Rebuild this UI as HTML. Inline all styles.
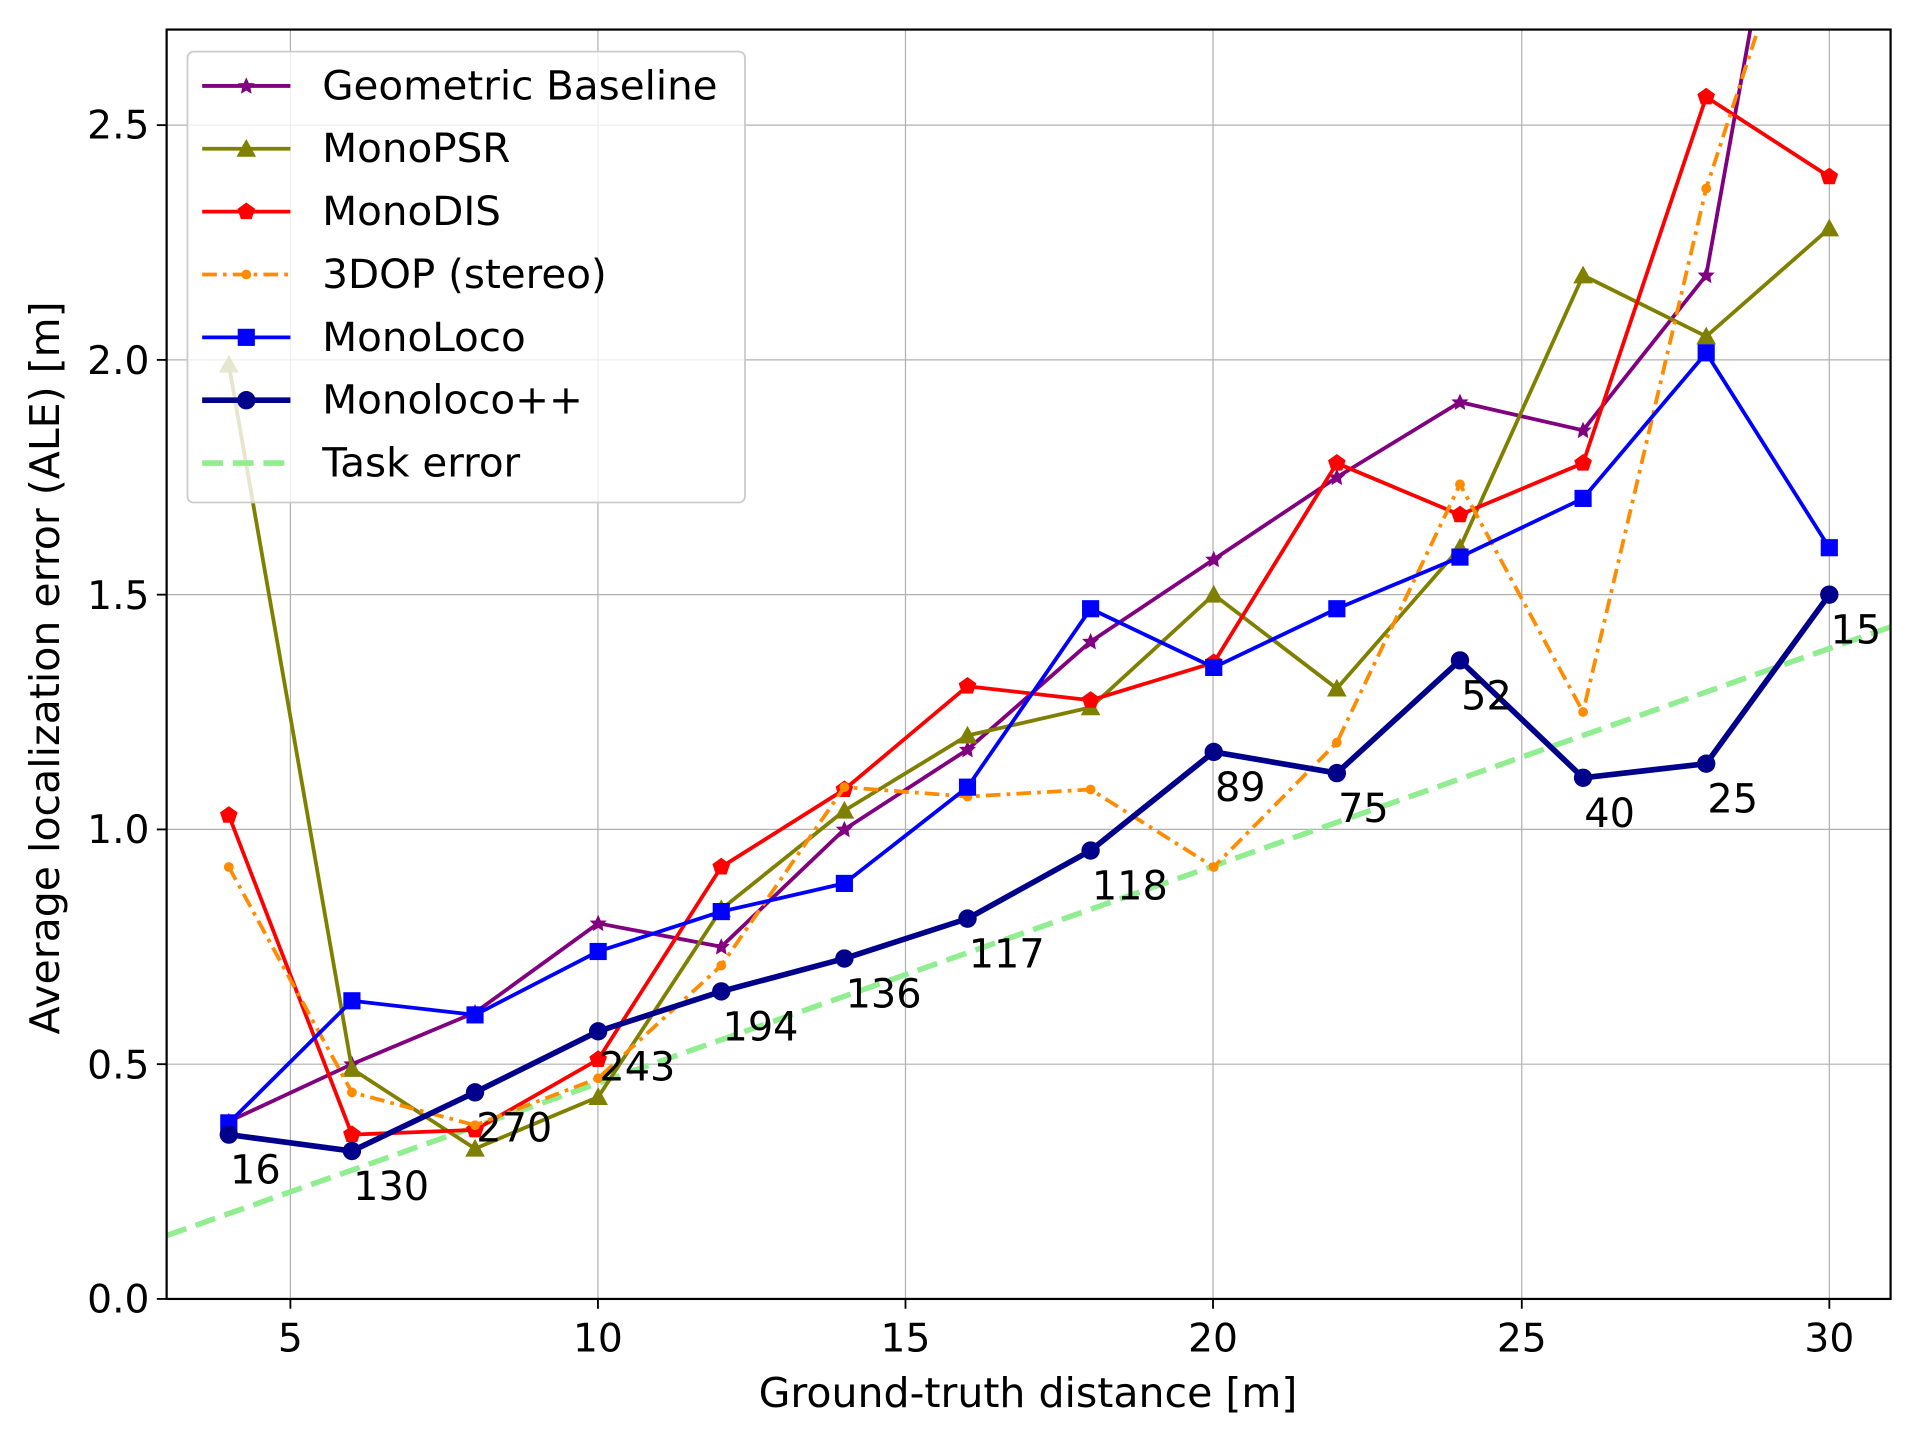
<!DOCTYPE html>
<html><head><meta charset="utf-8"><style>html,body{margin:0;padding:0;background:#fff}svg{display:block}text{font-family:"DejaVu Sans","Liberation Sans",sans-serif;fill:#000}</style></head>
<body>
<svg width="1920" height="1440" viewBox="0 0 1567 1175" xmlns="http://www.w3.org/2000/svg">
<defs>
<clipPath id="c"><rect x="136" y="24" width="1407" height="1036"/></clipPath>
<path id="star" d="M0,-7 L2.1,-2.3 7,-2.2 3.4,1.2 4.3,6.4 0,3.7 -4.3,6.4 -3.4,1.2 -7,-2.2 -2.1,-2.3Z"/>
<path id="tri" d="M0,-8 L8,6.5 -8,6.5Z"/>
<path id="pent" d="M0,-7.5 L7.2,-2.3 4.4,6.1 -4.4,6.1 -7.2,-2.3Z"/>
<rect id="sq" x="-7" y="-7" width="14" height="14"/>
</defs>
<g stroke="#b0b0b0" stroke-width="1">
<line x1="237" y1="24" x2="237" y2="1060"/><line x1="488" y1="24" x2="488" y2="1060"/><line x1="739" y1="24" x2="739" y2="1060"/><line x1="990" y1="24" x2="990" y2="1060"/><line x1="1242" y1="24" x2="1242" y2="1060"/><line x1="1493" y1="24" x2="1493" y2="1060"/>
<line x1="136" y1="868.4" x2="1543" y2="868.4"/><line x1="136" y1="676.8" x2="1543" y2="676.8"/><line x1="136" y1="485.2" x2="1543" y2="485.2"/><line x1="136" y1="293.6" x2="1543" y2="293.6"/><line x1="136" y1="102" x2="1543" y2="102"/>
</g>
<g id="plot" clip-path="url(#c)" fill="none" stroke-linejoin="round"></g>
<rect x="136" y="24" width="1407" height="1036" fill="none" stroke="#000" stroke-width="1.8"/>
<g stroke="#000" stroke-width="1.5">
<line x1="237" y1="1060" x2="237" y2="1068"/><line x1="488" y1="1060" x2="488" y2="1068"/><line x1="739" y1="1060" x2="739" y2="1068"/><line x1="990" y1="1060" x2="990" y2="1068"/><line x1="1242" y1="1060" x2="1242" y2="1068"/><line x1="1493" y1="1060" x2="1493" y2="1068"/>
<line x1="128" y1="1060" x2="136" y2="1060"/><line x1="128" y1="868.4" x2="136" y2="868.4"/><line x1="128" y1="676.8" x2="136" y2="676.8"/><line x1="128" y1="485.2" x2="136" y2="485.2"/><line x1="128" y1="293.6" x2="136" y2="293.6"/><line x1="128" y1="102" x2="136" y2="102"/>
</g>
<g font-size="32" text-anchor="middle">
<text x="237" y="1103">5</text><text x="488" y="1103">10</text><text x="739" y="1103">15</text><text x="990" y="1103">20</text><text x="1242" y="1103">25</text><text x="1493" y="1103">30</text>
</g>
<g font-size="32" text-anchor="end">
<text x="122" y="1071">0.0</text><text x="122" y="880">0.5</text><text x="122" y="688">1.0</text><text x="122" y="497">1.5</text><text x="122" y="305">2.0</text><text x="122" y="113">2.5</text>
</g>
<text x="839" y="1148" font-size="33.5" text-anchor="middle">Ground-truth distance [m]</text>
<text transform="translate(48,545) rotate(-90)" font-size="33.5" text-anchor="middle">Average localization error (ALE) [m]</text>
<g id="labels" font-size="32.5"></g>
<g>
<rect x="153" y="42" width="455" height="368" rx="5" fill="#fff" fill-opacity="0.8" stroke="#ccc" stroke-width="1.5"/>
<g id="legend"></g>
</g>
</svg>
<script>
const X=x=>136.5+(x-3)*50.24, Y=v=>1060-v*383.2;
const xs=[4,6,8,10,12,14,16,18,20,22,24,26,28,30];
const S=[
 {n:"Geometric Baseline",c:"#800080",w:3.1,m:"star",d:[0.378,0.50,0.61,0.80,0.75,1.00,1.17,1.40,1.575,1.75,1.91,1.85,2.18,3.64]},
 {n:"MonoPSR",c:"#808000",w:3.1,m:"tri",d:[1.99,0.49,0.32,0.43,0.83,1.04,1.20,1.26,1.50,1.30,1.60,2.18,2.05,2.28]},
 {n:"MonoDIS",c:"#ff0000",w:3.1,m:"pent",d:[1.03,0.35,0.36,0.51,0.92,1.085,1.305,1.275,1.355,1.78,1.67,1.78,2.56,2.39]},
 {n:"3DOP (stereo)",c:"#ff8c00",w:3.1,m:"dot",dash:"12 5 3 5",d:[0.92,0.44,0.37,0.47,0.71,1.09,1.07,1.085,0.92,1.185,1.735,1.25,2.365,3.17]},
 {n:"MonoLoco",c:"#0000ff",w:3.1,m:"sq",d:[0.375,0.635,0.605,0.74,0.825,0.885,1.09,1.47,1.345,1.47,1.58,1.705,2.015,1.60]},
 {n:"Monoloco++",c:"#00008b",w:4.6,m:"circ",d:[0.35,0.315,0.44,0.57,0.655,0.725,0.81,0.955,1.165,1.12,1.36,1.11,1.14,1.50]}
];
const NS="http://www.w3.org/2000/svg";
function el(t,a,p){const e=document.createElementNS(NS,t);for(const k in a)e.setAttribute(k,a[k]);p.appendChild(e);return e;}
function marker(m,x,y,c,p){
 if(m=="dot")return el("circle",{cx:x,cy:y,r:4,fill:c,stroke:"none"},p);
 if(m=="circ")return el("circle",{cx:x,cy:y,r:7.5,fill:c,stroke:"none"},p);
 return el("use",{href:"#"+m,x:x,y:y,fill:c,stroke:"none"},p);
}
const plot=document.getElementById("plot");
el("line",{x1:136,y1:Y(0.135),x2:1543,y2:Y(0.135+28*0.0463),stroke:"#90ee90","stroke-width":4.5,"stroke-dasharray":"17 8"},plot);
S.forEach(s=>{
 const pts=xs.map((x,i)=>X(x)+","+Y(s.d[i])).join(" ");
 const a={points:pts,stroke:s.c,"stroke-width":s.w};
 if(s.dash)a["stroke-dasharray"]=s.dash;
 el("polyline",a,plot);
 xs.forEach((x,i)=>marker(s.m,X(x),Y(s.d[i]),s.c,plot));
});
const lab=["16","130","270","243","194","136","117","118","89","75","52","40","25","15"];
const lg=document.getElementById("labels");
xs.forEach((x,i)=>{el("text",{x:X(x)+1,y:Y(S[5].d[i])+40},lg).textContent=lab[i];});
const L=document.getElementById("legend");
const all=S.concat([{n:"Task error",c:"#90ee90",w:4.5,dash:"17 8"}]);
all.forEach((s,i)=>{
 const y=70+i*51.3;
 const a={x1:165,y1:y,x2:237,y2:y,stroke:s.c,"stroke-width":s.w};
 if(s.dash)a["stroke-dasharray"]=s.dash;
 el("line",a,L);
 if(s.m)marker(s.m,201,y,s.c,L);
 const t=el("text",{x:263,y:y+11,"font-size":33},L);t.textContent=s.n;
});
</script>
</body></html>
